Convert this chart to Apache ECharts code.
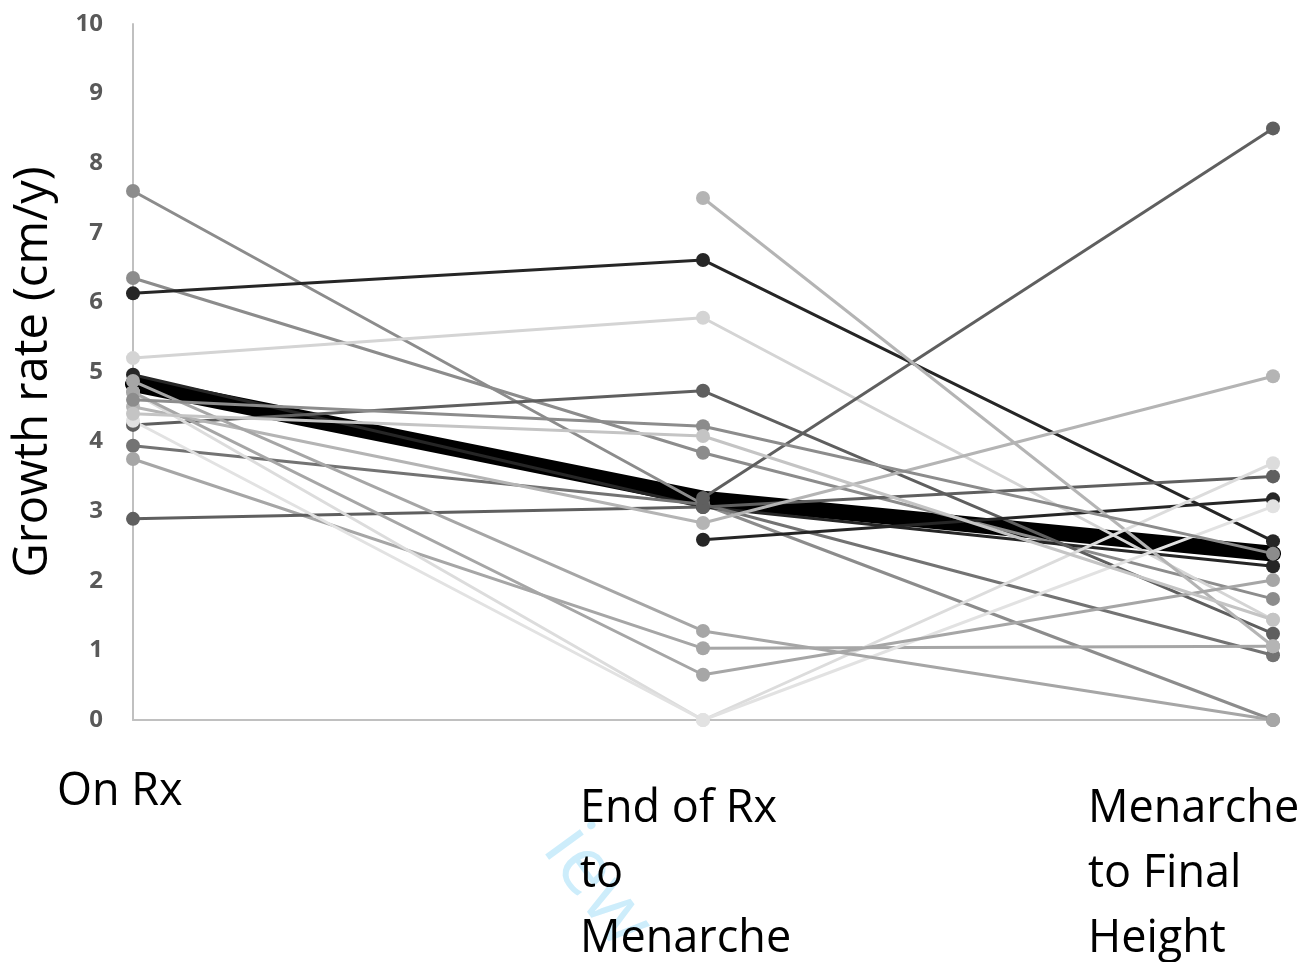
<!DOCTYPE html>
<html>
<head>
<meta charset="utf-8">
<script src="https://cdn.jsdelivr.net/npm/echarts@6/dist/echarts.min.js"></script>
<style>
  html, body { margin: 0; padding: 0; background: #fff; }
  #chart { width: 1314px; height: 962px; }
</style>
</head>
<body>
<div id="chart"></div>
<script>
// Growth rate per patient over three periods, plus the group mean (thick line)
const categories = ['On Rx', 'End of Rx\nto\nMenarche', 'Menarche\nto Final\nHeight'];
const yTicks = [0, 1, 2, 3, 4, 5, 6, 7, 8, 9, 10];

// individual patients: [On Rx, End of Rx to Menarche, Menarche to Final Height]
const p01 = [7.6, 3.1, 0.0];
const p02 = [6.35, 3.84, 1.74];
const p03 = [6.13, 6.61, 2.57];
const p04 = [5.2, 5.78, 1.44];
const p05 = [4.96, 3.06, 2.21];
const p06 = [4.24, 4.73, 1.24];
const p07 = [3.94, 3.1, 0.93];
const p08 = [3.75, 1.03, 1.06];
const p09 = [2.89, 3.06, 3.5];
const p10 = [null, 3.19, 8.5];
const p11 = [null, 2.59, 3.17];
const p12 = [null, 7.5, 1.06];
const p13 = [4.5, 2.83, 4.94];
const p14 = [4.71, 0.0, 3.69];
const p15 = [4.3, 0.0, 3.07];
const p16 = [4.87, 1.28, 0.0];
const p17 = [4.71, 0.65, 2.01];
const p18 = [4.6, 4.22, 2.39];
const p19 = [4.4, 4.08, 1.44];
const meanRate = [4.83, 3.18, 2.39];

const patients = [
  { data: p01, color: '#8c8c8c' },
  { data: p02, color: '#8c8c8c' },
  { data: p03, color: '#262626' },
  { data: p04, color: '#d4d4d4' },
  { data: p05, color: '#262626' },
  { data: p06, color: '#5f5f5f' },
  { data: p07, color: '#737373' },
  { data: p08, color: '#a6a6a6' },
  { data: p09, color: '#5f5f5f' },
  { data: p10, color: '#5f5f5f' },
  { data: p11, color: '#262626' },
  { data: p12, color: '#b4b4b4' },
  { data: p13, color: '#b4b4b4' },
  { data: p14, color: '#dcdcdc' },
  { data: p15, color: '#e2e2e2' },
  { data: p16, color: '#a6a6a6' },
  { data: p17, color: '#a6a6a6' },
  { data: p18, color: '#8c8c8c' },
  { data: p19, color: '#c4c4c4' }
];

const series = patients.map((p, i) => ({
  name: 'P' + (i + 1),
  type: 'line',
  data: p.data,
  symbol: 'circle',
  symbolSize: 14,
  showSymbol: true,
  connectNulls: false,
  lineStyle: { color: p.color, width: 3 },
  itemStyle: { color: p.color },
  emphasis: { disabled: true },
  z: 2
}));

series.push({
  name: 'Mean',
  type: 'line',
  data: meanRate,
  symbol: 'none',
  lineStyle: { color: '#000', width: 16, join: 'round', cap: 'round' },
  emphasis: { disabled: true },
  z: 1
});

const chart = echarts.init(document.getElementById('chart'));
chart.setOption({
  animation: false,
  backgroundColor: '#fff',
  grid: { left: 133, right: 41, top: 24, bottom: 242, containLabel: false },
  xAxis: {
    type: 'category',
    data: categories,
    boundaryGap: false,
    axisLine: { lineStyle: { color: '#c0c0c0', width: 2 } },
    axisTick: { show: false },
    axisLabel: { show: false },
    splitLine: { show: false }
  },
  yAxis: {
    type: 'value',
    min: yTicks[0],
    max: yTicks[yTicks.length - 1],
    interval: 1,
    name: 'Growth rate (cm/y)',
    nameLocation: 'middle',
    nameGap: 76,
    nameTextStyle: { fontFamily: 'Open Sans', fontSize: 47, color: '#000' },
    axisLine: { show: true, lineStyle: { color: '#c0c0c0', width: 2 } },
    axisTick: { show: false },
    splitLine: { show: false },
    axisLabel: {
      margin: 30,
      fontFamily: 'Open Sans',
      fontWeight: 'bold',
      fontSize: 24,
      color: '#595959'
    }
  },
  series: series
});

// category labels, left-aligned blocks placed relative to each category position
const labelShift = [-76, -123, -185];
const labelTop = [760, 777, 777];
const graphics = categories.map((c, i) => {
  const x = chart.convertToPixel({ xAxisIndex: 0 }, i);
  return {
    type: 'text',
    left: x + labelShift[i],
    top: labelTop[i],
    style: {
      text: c,
      font: '45px "Open Sans"',
      fill: '#000',
      lineHeight: 65
    },
    z: 10
  };
});
graphics.push({
  type: 'text',
  x: 592,
  y: 812,
  rotation: -Math.PI * 0.3,
  style: { text: 'iew', font: '80px "Open Sans"', fill: '#cdedfb' },
  z: 0
});
chart.setOption({ graphic: graphics });
</script>
</body>
</html>
